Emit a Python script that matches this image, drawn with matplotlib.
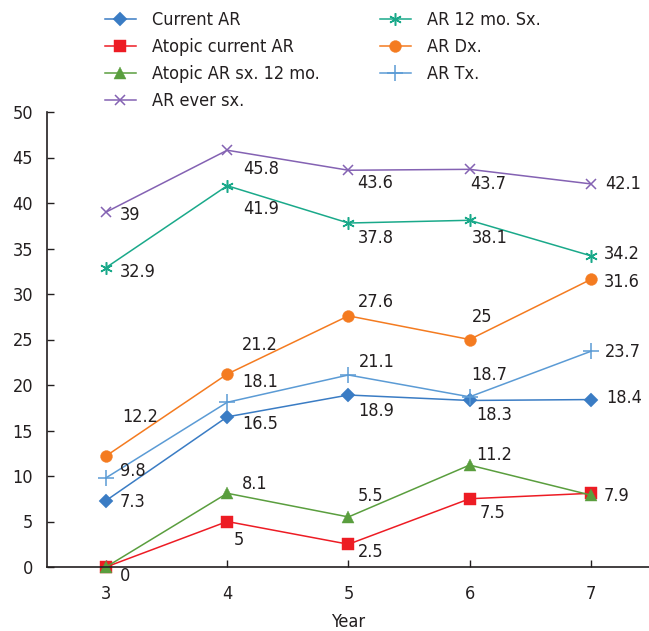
import matplotlib
matplotlib.use('Agg')
import matplotlib.pyplot as plt

# data
years = [3, 4, 5, 6, 7]
current_ar = [7.3, 16.5, 18.9, 18.3, 18.4]
atopic_current_ar = [0, 5, 2.5, 7.5, 8.1]
atopic_ar_sx12 = [0, 8.1, 5.5, 11.2, 7.9]
ar_ever_sx = [39, 45.8, 43.6, 43.7, 42.1]
ar_12mo_sx = [32.9, 41.9, 37.8, 38.1, 34.2]
ar_dx = [12.2, 21.2, 27.6, 25, 31.6]
ar_tx = [9.8, 18.1, 21.1, 18.7, 23.7]

plt.rcParams['font.family'] = ['DejaVu Sans']
plt.rcParams['font.stretch'] = 'condensed'
plt.rcParams['font.size'] = 12
ink = '#231f20'

fig = plt.figure(figsize=(6.49, 6.31), dpi=100)
ax = fig.add_axes([47/649, 1-567/631, (649-47)/649, (567-112)/631])

# label offsets in pixels (dx right, dy up) for each point; None = no label
lab_px = {
    'Current AR': [(14, -3), (15, -9), (10, -17), (7, -16), (15, 0)],
    'Atopic current AR': [(14, -10), (7, -20), (9, -9), (10, -16), None],
    'Atopic AR sx. 12 mo.': [None, (15, 8), (9, 20), (7, 9), (13, -2)],
    'AR ever sx.': [(14, -4), (16, -20), (9, -14), (1, -16), (14, -1)],
    'AR 12 mo. Sx.': [(14, -6), (16, -25), (9, -16), (2, -19), (13, 0)],
    'AR Dx.': [(16, 38), (15, 28), (9, 12), (2, 21), (13, -4)],
    'AR Tx.': [(14, 5), (15, 19), (10, 12), (2, 20), (14, -2)],
}

series = [
    ('Current AR', current_ar, '#3a7cc4', 'D', 7.5),
    ('Atopic current AR', atopic_current_ar, '#ed1c24', 's', 8.5),
    ('Atopic AR sx. 12 mo.', atopic_ar_sx12, '#5a9e3e', '^', 9),
    ('AR ever sx.', ar_ever_sx, '#8462b3', 'x', 7),
    ('AR 12 mo. Sx.', ar_12mo_sx, '#1aa98a', (6, 2, 0), 9),
    ('AR Dx.', ar_dx, '#f47b20', 'o', 8.5),
    ('AR Tx.', ar_tx, '#5b9bd5', '+', 11),
]

handles = []
for name, vals, col, mk, ms in series:
    thin = mk in ('x', '+') or isinstance(mk, tuple)
    h, = ax.plot(years, vals, color=col, marker=mk, markersize=ms, lw=1.1,
                 markeredgewidth=1.1 if thin else 0.3,
                 markeredgecolor=col, label=name, clip_on=False)
    handles.append(h)
    for x, v, off in zip(years, vals, lab_px[name]):
        if off is None:
            continue
        ax.annotate(f'{v:g}', (x, v), xytext=(off[0]*0.72, off[1]*0.72 + 1),
                    textcoords='offset points', ha='left', va='center',
                    color=ink, fontsize=13)

ax.set_xlim(2.513, 7.48)
ax.set_ylim(0, 50)
ax.set_xticks(years)
ax.set_yticks(range(0, 51, 5))
ax.spines['top'].set_visible(False)
ax.spines['right'].set_visible(False)
for s in ('left', 'bottom'):
    ax.spines[s].set_color(ink)
    ax.spines[s].set_linewidth(1.2)
ax.tick_params(axis='both', direction='in', length=5, width=1, colors=ink, labelsize=13)
ax.tick_params(axis='x', pad=13)
ax.tick_params(axis='y', pad=10)
ax.set_xlabel('Year', fontsize=13, color=ink, labelpad=7)

leg_kw = dict(loc='upper left', frameon=False, fontsize=13, handlelength=1.7,
              handletextpad=0.9, labelspacing=0.5, borderaxespad=0, borderpad=0)
leg1 = fig.legend(handles=handles[:4], bbox_to_anchor=(105/649, 1-11/631), **leg_kw)
leg2 = fig.legend(handles=handles[4:], bbox_to_anchor=(380/649, 1-11/631), **leg_kw)
for lg in (leg1, leg2):
    for t in lg.get_texts():
        t.set_color(ink)

fig.savefig('out.png', dpi=100)
